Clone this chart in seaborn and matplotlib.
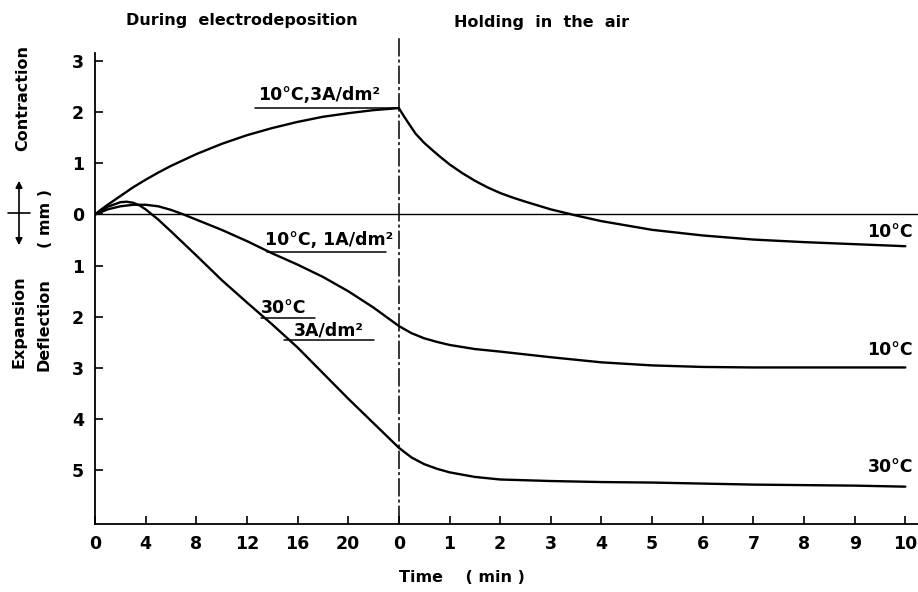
import numpy as np
import pandas as pd
import matplotlib
matplotlib.use('Agg')
import matplotlib.pyplot as plt
from matplotlib.lines import Line2D
import seaborn as sns

# time during electrodeposition (min) and deflection (mm, + = contraction)
t_dep_a = [0, 0.5, 1, 2, 3, 4, 5, 6, 8, 10, 12, 14, 16, 18, 20, 22, 24]
v_dep_a = [0, 0.10, 0.19, 0.36, 0.53, 0.68, 0.82, 0.95, 1.18, 1.38, 1.55, 1.69, 1.81, 1.91, 1.98, 2.04, 2.08]

t_dep_b = [0, 1, 2, 3, 4, 5, 6, 7, 8, 10, 12, 14, 16, 18, 20, 22, 24]
v_dep_b = [0, 0.10, 0.16, 0.19, 0.19, 0.16, 0.09, 0.0, -0.10, -0.30, -0.52, -0.76, -0.98, -1.22, -1.50, -1.82, -2.18]

t_dep_c = [0, 1, 2, 2.5, 3, 3.5, 4, 5, 6, 8, 10, 12, 14, 16, 18, 20, 22, 24]
v_dep_c = [0, 0.15, 0.24, 0.25, 0.23, 0.18, 0.10, -0.10, -0.33, -0.80, -1.28, -1.72, -2.15, -2.60, -3.10, -3.60, -4.08, -4.56]

# time holding in the air (min)
t_air_a = [0, 0.1, 0.2, 0.33, 0.5, 0.67, 0.8, 1.0, 1.25, 1.5, 1.75, 2, 2.25, 2.5, 3, 3.5, 4, 5, 6, 7, 8, 9, 10]
v_air_a = [2.08, 1.92, 1.77, 1.58, 1.40, 1.25, 1.14, 0.98, 0.81, 0.66, 0.53, 0.42, 0.33, 0.25, 0.10, -0.02,
           -0.13, -0.30, -0.41, -0.49, -0.54, -0.58, -0.62]

t_air_b = [0, 0.25, 0.5, 0.75, 1, 1.5, 2, 3, 4, 5, 6, 7, 8, 9, 10]
v_air_b = [-2.18, -2.32, -2.42, -2.49, -2.55, -2.63, -2.68, -2.79, -2.89, -2.95, -2.98, -2.99, -2.99, -2.99, -2.99]

t_air_c = [0, 0.25, 0.5, 0.75, 1, 1.5, 2, 3, 4, 5, 6, 7, 8, 9, 10]
v_air_c = [-4.56, -4.75, -4.88, -4.97, -5.04, -5.13, -5.18, -5.21, -5.23, -5.24, -5.26, -5.28, -5.29, -5.30, -5.32]

dep_ticks = [0, 4, 8, 12, 16, 20]
air_ticks = [0, 1, 2, 3, 4, 5, 6, 7, 8, 9, 10]
y_ticks = [-5, -4, -3, -2, -1, 0, 1, 2, 3]

DEP_END = 24      # divider position on the shared axis
AIR_SCALE = 4     # one holding minute drawn as wide as 4 deposition minutes


def build_frame():
    rows = []
    curves = {
        'a': (t_dep_a, v_dep_a, t_air_a, v_air_a),
        'b': (t_dep_b, v_dep_b, t_air_b, v_air_b),
        'c': (t_dep_c, v_dep_c, t_air_c, v_air_c),
    }
    for name, (td, vd, ta, va) in curves.items():
        for t, v in zip(td, vd):
            rows.append({'curve': name, 'x': t, 'value': v})
        for t, v in zip(ta[1:], va[1:]):
            rows.append({'curve': name, 'x': DEP_END + AIR_SCALE * t, 'value': v})
    return pd.DataFrame(rows)


sns.set_style('ticks')
plt.rcParams['font.family'] = ['DejaVu Sans']
plt.rcParams['text.color'] = 'black'
plt.rcParams['font.weight'] = 'bold'

W, H = 918, 592
fig = plt.figure(figsize=(W / 100, H / 100), dpi=100)
ax = fig.add_axes([95 / W, 68 / H, 1 - 95 / W, (524 - 38) / H])

df = build_frame()
sns.lineplot(data=df, x='x', y='value', units='curve', estimator=None, sort=False,
             color='black', linewidth=1.7, ax=ax)

ax.set_xlim(0, 65)
ax.set_ylim(-6.05, 3.45)

# zero line and divider between the two phases
ax.axhline(0, color='black', linewidth=1.0)
ax.axvline(DEP_END, color='black', linewidth=1.1, linestyle=(0, (12, 2, 2, 2)))

xt = dep_ticks + [DEP_END + AIR_SCALE * t for t in air_ticks]
xl = [str(t) for t in dep_ticks] + [str(t) for t in air_ticks]
ax.set_xticks(xt)
ax.set_xticklabels(xl)
ax.set_yticks(y_ticks)
ax.set_yticklabels([str(abs(v)) for v in y_ticks])
ax.tick_params(direction='in', length=6, width=1.2, labelsize=12.5, pad=8, colors='black')
ax.set_xlabel('')
ax.set_ylabel('')

sns.despine(ax=ax, top=True, right=True)
ax.spines['left'].set_bounds(-6.05, 3.15)
for s in ['left', 'bottom']:
    ax.spines[s].set_linewidth(1.3)
    ax.spines[s].set_color('black')

# curve labels with leader lines
lab = dict(fontsize=12.5, color='black')
ax.text(12.9, 2.16, '10°C,3A/dm²', ha='left', va='bottom', **lab)
ax.plot([12.6, 24], [2.08, 2.08], color='black', linewidth=1.1)
ax.text(13.4, -0.49, '10°C, 1A/dm²', ha='left', va='center', **lab)
ax.plot([13.6, 23.0], [-0.74, -0.74], color='black', linewidth=1.1)
ax.text(13.1, -1.83, '30°C', ha='left', va='center', **lab)
ax.plot([13.1, 17.4], [-2.03, -2.03], color='black', linewidth=1.1)
ax.text(15.7, -2.26, '3A/dm²', ha='left', va='center', **lab)
ax.plot([14.9, 22.0], [-2.46, -2.46], color='black', linewidth=1.1)

ax.text(64.6, -0.35, '10°C', ha='right', va='center', **lab)
ax.text(64.6, -2.65, '10°C', ha='right', va='center', **lab)
ax.text(64.6, -4.93, '30°C', ha='right', va='center', **lab)

# headings and axis titles
txt = dict(ha='center', va='center', fontsize=11.5, color='black')
fig.text(242 / W, 1 - 21 / H, 'During  electrodeposition', **txt)
fig.text(542 / W, 1 - 23 / H, 'Holding  in  the  air', **txt)
fig.text(462 / W, 1 - 577 / H, 'Time    ( min )', **txt)

fig.text(23 / W, 1 - 98 / H, 'Contraction', rotation=90, **txt)
fig.text(45 / W, 1 - 219 / H, '( mm )', rotation=90, **txt)
fig.text(19 / W, 1 - 322 / H, 'Expansion', rotation=90, **txt)
fig.text(44 / W, 1 - 325 / H, 'Deflection', rotation=90, **txt)

ax.annotate('', xy=(19, H - 178), xytext=(19, H - 248), xycoords='figure pixels',
            textcoords='figure pixels',
            arrowprops=dict(arrowstyle='<|-|>', color='black', lw=1.2, mutation_scale=10))
fig.add_artist(Line2D([8 / W, 30 / W], [1 - 213 / H, 1 - 213 / H], color='black', linewidth=1.2))

fig.savefig('out.png', dpi=100)
